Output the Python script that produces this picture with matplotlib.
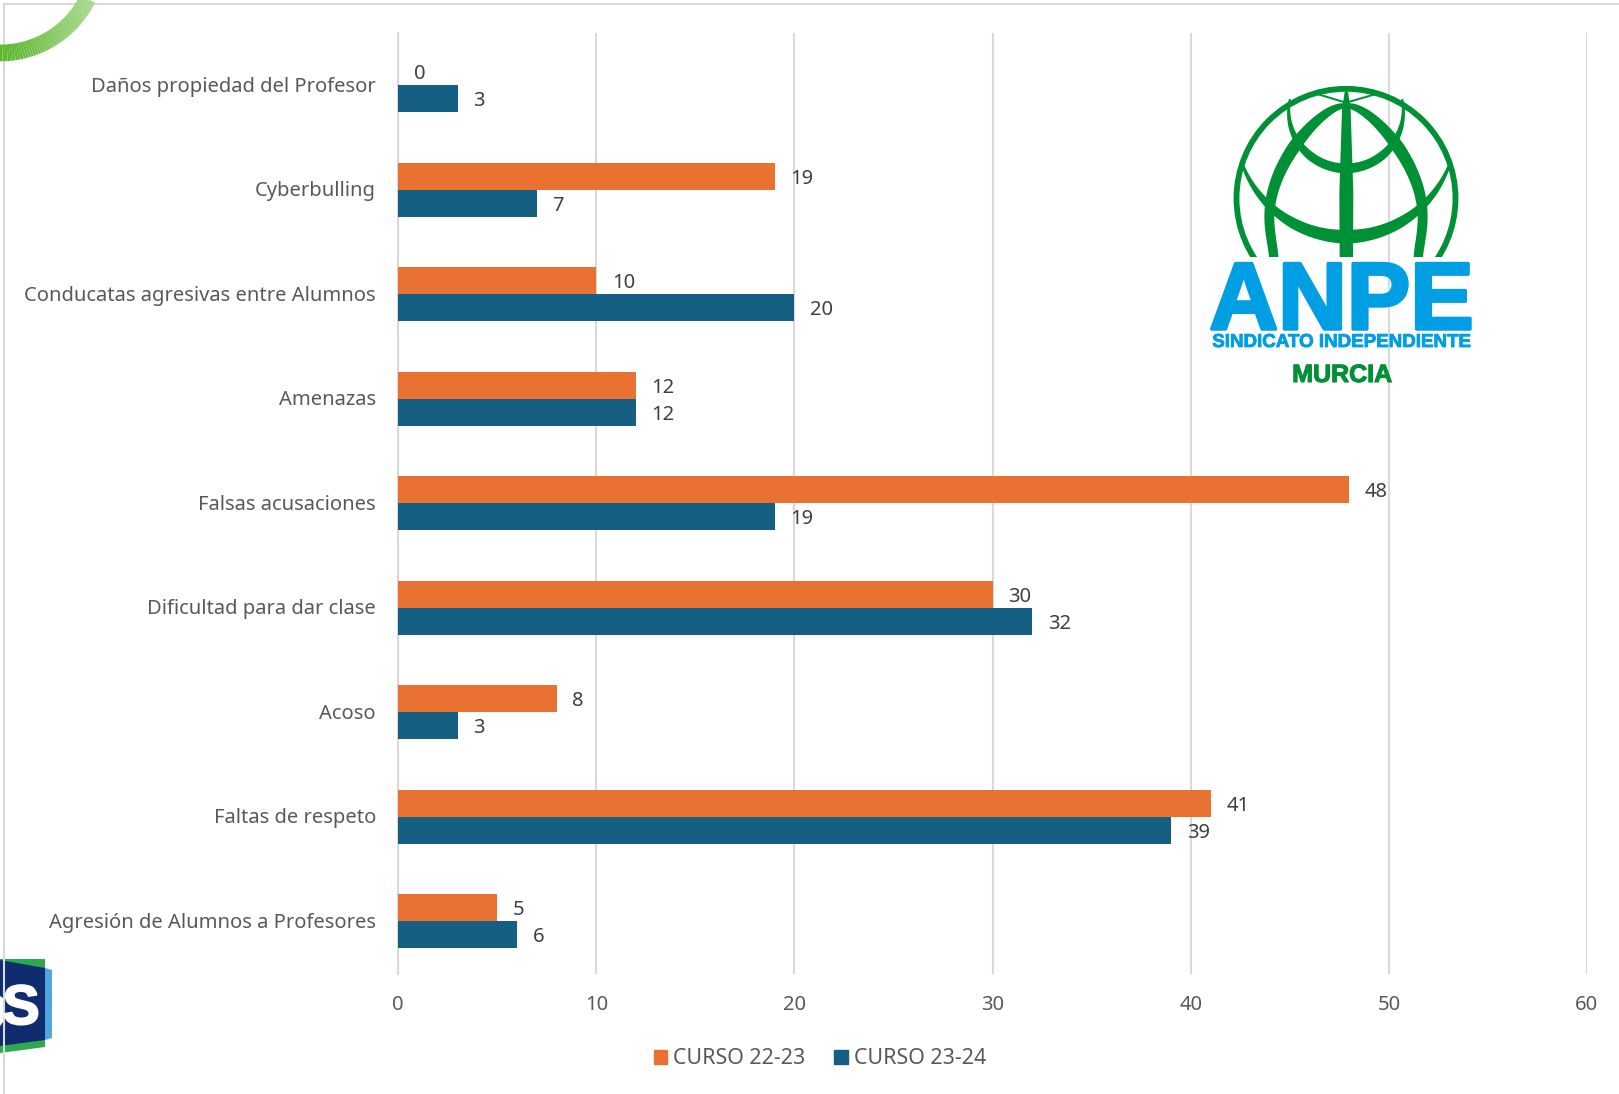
import numpy as np
import matplotlib
matplotlib.use("Agg")
import matplotlib.pyplot as plt
import matplotlib.patheffects as pe
from matplotlib.patches import Patch, Polygon, Rectangle, Circle
from matplotlib.collections import LineCollection
from matplotlib.transforms import ScaledTranslation

W, H = 1619, 1094
categories = ["Daños propiedad del Profesor", "Cyberbulling", "Conducatas agresivas entre Alumnos",
              "Amenazas", "Falsas acusaciones", "Dificultad para dar clase", "Acoso",
              "Faltas de respeto", "Agresión de Alumnos a Profesores"]
curso_22_23 = [0, 19, 10, 12, 48, 30, 8, 41, 5]
curso_23_24 = [3, 7, 20, 12, 19, 32, 3, 39, 6]
x_ticks = [0, 10, 20, 30, 40, 50, 60]
series_names = ["CURSO 22-23", "CURSO 23-24"]

FONT = "Noto Sans"
plt.rcParams["font.family"] = [FONT, "DejaVu Sans"]
ORANGE, BLUE, GRID = "#E97132", "#156082", "#D9D9D9"
TICK, LABEL = "#595959", "#404040"

fig = plt.figure(figsize=(W / 100, H / 100), dpi=100, facecolor="white")
ax = fig.add_axes([398.2 / W, 1 - 973.5 / H, (1587 - 398.2) / W, (973.5 - 33) / H])
y = np.arange(len(categories))
bh = 0.26
b1 = ax.barh(y - bh / 2, curso_22_23, bh, color=ORANGE, zorder=3)
b2 = ax.barh(y + bh / 2, curso_23_24, bh, color=BLUE, zorder=3)
for bars, vals in ((b1, curso_22_23), (b2, curso_23_24)):
    for r, v in zip(bars, vals):
        ax.annotate(str(v), (v, r.get_y() + r.get_height() / 2), xytext=(11.3, -1.8),
                    textcoords="offset points", va="center", ha="left",
                    fontsize=14.5, color=LABEL, zorder=5)
ax.set_xlim(0, 60)
ax.set_ylim(len(categories) - 0.5, -0.5)
ax.set_xticks(x_ticks)
ax.set_yticks(y, categories)
ax.grid(axis="x", color=GRID, lw=1.5, zorder=0)
ax.set_axisbelow(True)
for s in ("top", "right", "bottom"):
    ax.spines[s].set_visible(False)
ax.spines["left"].set_color(GRID)
ax.spines["left"].set_linewidth(1.5)
ax.tick_params(axis="both", length=0, colors=TICK, labelsize=14.5)
ax.tick_params(axis="y", pad=16)
ax.tick_params(axis="x", pad=15.5)
lift = ScaledTranslation(0, 1 / 100, fig.dpi_scale_trans)
for lab in ax.get_yticklabels():
    lab.set_transform(lab.get_transform() + lift)
fig.legend(handles=[Patch(color=ORANGE, label=series_names[0]), Patch(color=BLUE, label=series_names[1])],
           ncol=2, loc="center", bbox_to_anchor=(820 / W, 1 - 1059 / H), frameon=False, fontsize=15.4,
           labelcolor=TICK, handlelength=0.62, handleheight=0.62, handletextpad=0.3, columnspacing=1.35)

# Decorative overlay in pixel coordinates
ov = fig.add_axes([0, 0, 1, 1], zorder=10)
ov.set_xlim(0, W); ov.set_ylim(H, 0); ov.axis("off"); ov.patch.set_alpha(0)

# frame
ov.plot([4, W], [4, 4], color=GRID, lw=1.5)
ov.plot([4, 4], [4, H], color=GRID, lw=1.5)

# green corner arc with gradient
t = np.linspace(np.pi / 2 + 0.35, -0.05, 80)
px = 98 * np.cos(t); py = -45 + 98 * np.sin(t)
segs = [[(px[i], py[i]), (px[i + 1], py[i + 1])] for i in range(len(t) - 1)]
c0, c1 = np.array(matplotlib.colors.to_rgb("#5DB82F")), np.array(matplotlib.colors.to_rgb("#A6D88A"))
cols = [c0 + (c1 - c0) * np.clip((px[i] - 10) / 80, 0, 1) for i in range(len(t) - 1)]
ov.add_collection(LineCollection(segs, colors=cols, linewidths=12, capstyle="butt"))

# badge bottom-left
ov.add_patch(Polygon([(0, 959), (45, 959), (45, 1047), (0, 1053)], color="#2DA94F", lw=0))
ov.add_patch(Polygon([(45, 968), (52, 970), (52, 1038), (45, 1040)], color="#4FA6DC", lw=0))
ov.add_patch(Polygon([(0, 960), (45, 968), (45, 1040), (0, 1046)], color="#0F2C6E", lw=0))
ov.add_patch(Polygon([(0, 996), (3, 998), (3, 1022), (0, 1026)], color="white", lw=0))
ov.text(21, 1024, "S", color="white", fontsize=40, fontweight="bold", ha="center", va="baseline",
        family="Liberation Sans", path_effects=[pe.withStroke(linewidth=1.5, foreground="white")])

# ANPE logo
GREEN, SKY = "#009035", "#009FE3"
def z(xz, yz):
    return 1180 + np.asarray(xz) / 3, 60 + np.asarray(yz) / 3
clip = Rectangle((1150, 60), 400, 197, transform=ov.transData)
def band(xz, yz, wz):
    xz, yz, wz = map(np.asarray, (xz, yz, wz))
    dx, dy = np.gradient(xz), np.gradient(yz)
    n = np.hypot(dx, dy)
    nx, ny = -dy / n, dx / n
    a = np.c_[z(xz + nx * wz / 2, yz + ny * wz / 2)]
    b = np.c_[z(xz - nx * wz / 2, yz - ny * wz / 2)]
    p = ov.add_patch(Polygon(np.r_[a, b[::-1]], color=GREEN, lw=0))
    p.set_clip_path(clip)

ring = ov.add_patch(Circle((1180 + 498 / 3, 60 + 415 / 3), 109.5, fill=False, ec=GREEN, lw=4.2))
ring.set_clip_path(clip)
# thick meridians (gothic arch outline)
mx = np.array([498, 430, 348, 295, 272, 270, 282])
my = np.array([138, 168, 252, 340, 450, 520, 600])
ms = np.linspace(0, 1, len(mx))
ss = np.linspace(0, 1, 100)
cx, cy = np.polyfit(ms, mx - 498, 4), np.polyfit(ms, my, 4)
wm = np.interp(ss, [0, 0.15, 0.35, 0.7, 1], [14, 26, 38, 30, 28])
for sgn in (-1, 1):
    band(498 + sgn * np.polyval(cx, ss), np.polyval(cy, ss), wm)
# vertical
vy = np.linspace(95, 600, 60)
band(np.full(60, 499.0), vy, np.interp(vy, [95, 150, 400, 600], [10, 26, 42, 40]))
# lower latitude
th = np.linspace(np.radians(20), np.radians(160), 90)
band(498 + 331 * np.cos(th), 199 + 331 * np.sin(th), np.interp(np.abs(th - np.pi / 2), [0, 0.5, 1.22], [42, 32, 8]))
# upper latitude
th = np.linspace(np.radians(-12), np.radians(192), 110)
band(498 + 172 * np.cos(th), 153 + 172 * np.sin(th),
     np.interp(np.abs(th - np.pi / 2), [0, 0.7, 1.4, 1.78], [30, 26, 12, 6]))
# top cross lines
band(np.linspace(415, 498, 20), np.linspace(103, 128, 20), np.full(20, 6.0))
band(np.linspace(498, 585, 20), np.linspace(128, 103, 20), np.full(20, 6.0))

ov.text(1341.5, 329, "ANPE", color=SKY, fontsize=68.5, fontweight="bold", ha="center", va="baseline",
        family="Liberation Sans", path_effects=[pe.withStroke(linewidth=2.5, foreground=SKY)])
ov.text(1341.5, 347, "SINDICATO INDEPENDIENTE", color=SKY, fontsize=13.5, fontweight="bold",
        ha="center", va="baseline", family="Liberation Sans",
        path_effects=[pe.withStroke(linewidth=0.6, foreground=SKY)])
ov.text(1342, 382, "MURCIA", color=GREEN, fontsize=18, fontweight="bold", ha="center", va="baseline",
        family="Liberation Sans", path_effects=[pe.withStroke(linewidth=0.8, foreground=GREEN)])

fig.savefig("out.png", dpi=100, facecolor="white")
